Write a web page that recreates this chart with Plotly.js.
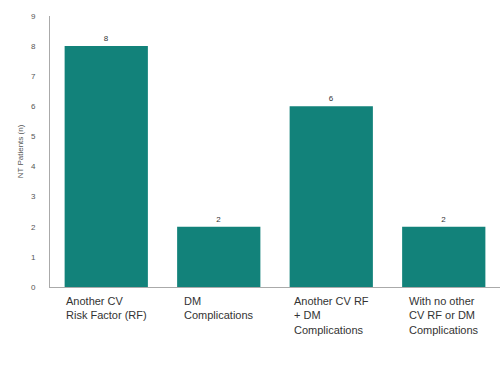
<!DOCTYPE html>
<html>
<head>
<meta charset="utf-8">
<script src="https://cdn.plot.ly/plotly-3.0.1.min.js"></script>
<style>html,body{margin:0;padding:0;background:#fff;}#chart{width:500px;height:383px;}</style>
</head>
<body>
<div id="chart"></div>
<script>
var categories = ["cat1", "cat2", "cat3", "cat4"];
var categoryLabels = [
  "Another CV<br>Risk Factor (RF)",
  "DM<br>Complications",
  "Another CV RF<br>+ DM<br>Complications",
  "With no other<br>CV RF or DM<br>Complications"
];
var patients = [8, 2, 6, 2];
var yTicks = [0, 1, 2, 3, 4, 5, 6, 7, 8, 9];
var yTitle = "NT Patients (n)";

var trace = {
  type: "bar",
  x: categories,
  y: patients,
  text: patients.map(String),
  textposition: "outside",
  cliponaxis: false,
  textfont: {family: "Liberation Sans, Arial, sans-serif", size: 8, color: "#333"},
  marker: {color: "#12827a"},
  hoverinfo: "none"
};

var annotations = categories.map(function (c, i) {
  return {
    x: c, xref: "x", y: 0, yref: "paper",
    yshift: -6,
    text: categoryLabels[i],
    showarrow: false,
    xanchor: "center", yanchor: "top",
    align: "left",
    font: {family: "Liberation Sans, Arial, sans-serif", size: 11, color: "#333"}
  };
});

var layout = {
  width: 500, height: 383,
  margin: {l: 50, r: 0, t: 16, b: 96},
  paper_bgcolor: "#fff", plot_bgcolor: "#fff",
  showlegend: false,
  bargap: 0.26,
  xaxis: {
    showticklabels: false,
    showline: true, linecolor: "#aaa", linewidth: 1,
    ticks: "", showgrid: false, zeroline: false
  },
  yaxis: {
    range: [0, 9],
    tickvals: yTicks,
    ticks: "", ticklen: 0,
    ticklabelstandoff: 12,
    showline: true, linecolor: "#aaa", linewidth: 1,
    showgrid: false, zeroline: false,
    tickfont: {family: "Liberation Sans, Arial, sans-serif", size: 8, color: "#555"},
    title: {text: yTitle, standoff: 6,
      font: {family: "Liberation Sans, Arial, sans-serif", size: 8, color: "#555"}}
  },
  annotations: annotations
};

Plotly.newPlot("chart", [trace], layout, {displayModeBar: false, staticPlot: true});
</script>
</body>
</html>
